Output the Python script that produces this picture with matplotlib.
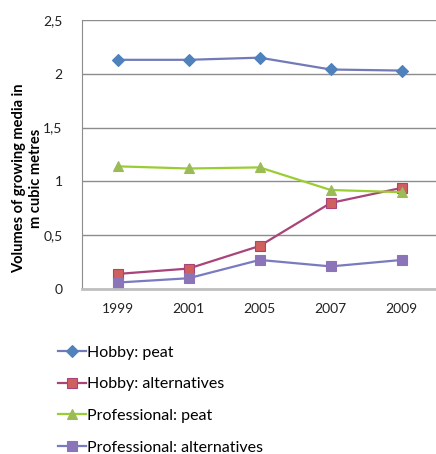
import matplotlib.pyplot as plt
from matplotlib.ticker import FuncFormatter

years = ['1999', '2001', '2005', '2007', '2009']
hobby_peat = [2.13, 2.13, 2.15, 2.04, 2.03]
hobby_alt = [0.14, 0.19, 0.40, 0.80, 0.94]
prof_peat = [1.14, 1.12, 1.13, 0.92, 0.90]
prof_alt = [0.06, 0.10, 0.27, 0.21, 0.27]

plt.rcParams['font.family'] = ['Lato', 'DejaVu Sans']

fig = plt.figure(figsize=(4.36, 4.54), dpi=100)
ax = fig.add_axes([82 / 436, 1 - 289 / 454, 1 - 82 / 436 + 0.003, (289 - 20) / 454])

x = range(len(years))
series = [
    (hobby_peat, 'Hobby: peat', '#727AB8', 'D', '#4F81BD', '#4F81BD', 6),
    (hobby_alt, 'Hobby: alternatives', '#A8447A', 's', '#D0605E', '#A8447A', 7),
    (prof_peat, 'Professional: peat', '#9ACD32', '^', '#9BBB59', '#9BBB59', 7),
    (prof_alt, 'Professional: alternatives', '#7A7AC0', 's', '#8B74B8', '#8B74B8', 7),
]
for vals, label, lc, mk, mfc, mec, ms in series:
    ax.plot(x, vals, color=lc, lw=1.6, marker=mk, markersize=ms,
            markerfacecolor=mfc, markeredgecolor=mec, markeredgewidth=0.8,
            label=label)

ax.set_xlim(-0.5, len(years) - 0.5)
ax.set_ylim(0, 2.5)
ax.set_xticks(list(x))
ax.set_xticklabels(years)
ax.set_yticks([0, 0.5, 1, 1.5, 2, 2.5])
ax.yaxis.set_major_formatter(FuncFormatter(lambda v, p: f'{v:g}'.replace('.', ',')))
ax.tick_params(length=0, labelsize=10, colors='#222222', pad=10)
ax.tick_params(axis='y', pad=14)
ax.grid(axis='y', color='#8C8C8C', lw=1)
ax.set_axisbelow(True)
for side in ['top', 'right']:
    ax.spines[side].set_visible(False)
ax.spines['left'].set_color('#8C8C8C')
ax.spines['bottom'].set_color('#BFBFBF')
ax.spines['bottom'].set_linewidth(2)

ax.set_ylabel('Volumes of growing media in\nm cubic metres', fontsize=10.5,
              fontweight='bold', linespacing=1.25)
ax.yaxis.set_label_coords(-39 / 354, 0.41)

handles, labels = ax.get_legend_handles_labels()
fig.legend(handles, labels, loc='upper left', bbox_to_anchor=(52 / 436, 1 - 339 / 454),
           frameon=False, fontsize=11.5, handlelength=1.7, handletextpad=0.1,
           labelspacing=1.1, borderaxespad=0)

fig.savefig('out.png', dpi=100)
